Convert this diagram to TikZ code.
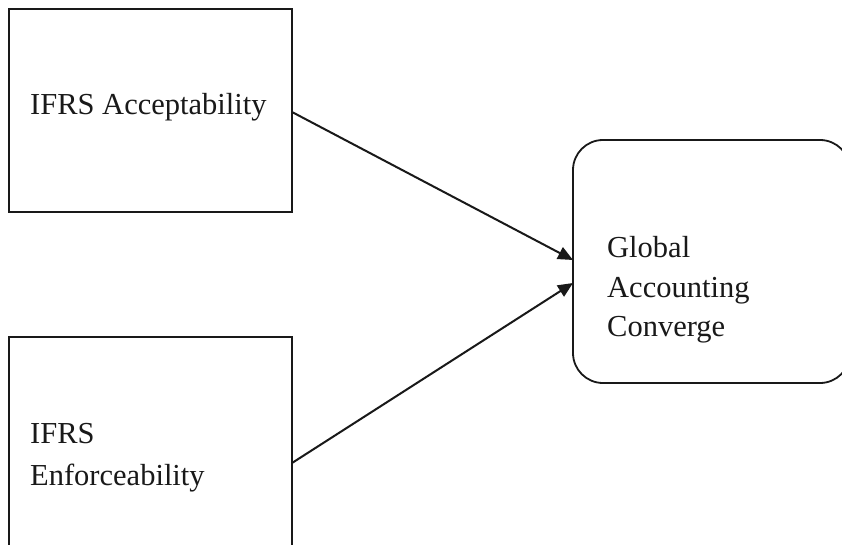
\documentclass[tikz,border=0pt]{standalone}
\usepackage{fontspec}
\setmainfont{Liberation Serif}
\usetikzlibrary{arrows.meta}
\begin{document}
\begin{tikzpicture}[x=1pt,y=-1pt,
  box/.style={draw=black!90,line width=1.8pt,minimum width=#1,inner sep=0pt,outer sep=0pt},
  lbl/.style={anchor=base west,inner sep=0pt,font=\fontsize{30.5}{40}\selectfont,text=black!90},
  conn/.style={line width=2pt,draw=black!90,-{Triangle[length=15pt,width=13pt]}}]
\useasboundingbox (0,0) rectangle (842,545);
\clip (0,0) rectangle (842,545);
\fill[white] (0,0) rectangle (842,545);
\node[box=283pt,minimum height=203pt] (acc) at (150.5,110.5) {};
\node[box=283pt,minimum height=223pt] (enf) at (150.5,448.5) {};
\node[box=277pt,minimum height=243pt,rounded corners=30pt] (glob) at (711.5,261.5) {};
\node[lbl] (t1) at (30,115) {IFRS Acceptability};
\node[lbl] (t2) at (30,443) {IFRS};
\node[lbl] (t3) at (30,485) {Enforceability};
\node[lbl] (t4) at (607,257) {Global};
\node[lbl] (t5) at (607,297) {Accounting};
\node[lbl] (t6) at (607,336) {Converge};
\draw[conn] ([yshift=-1.5pt]acc.east) -- ([yshift=1.5pt]glob.west);
\draw[conn] ([yshift=-14.5pt]enf.east) -- ([yshift=-21.5pt]glob.west);
\end{tikzpicture}
\end{document}
